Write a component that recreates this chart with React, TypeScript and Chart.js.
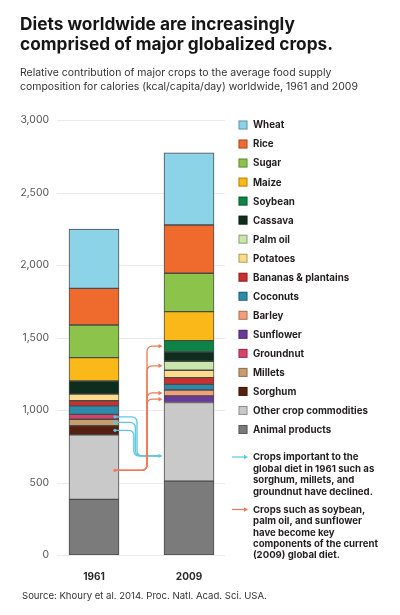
import React, { useEffect, useRef } from 'react';
import { Chart, registerables } from 'chart.js';

Chart.register(...registerables);

const titleLines = ['Diets worldwide are increasingly', 'comprised of major globalized crops.'];
const subtitleLines = [
  'Relative contribution of major crops to the average food supply',
  'composition for calories (kcal/capita/day) worldwide, 1961 and 2009',
];
const sourceText = 'Source: Khoury et al. 2014. Proc. Natl. Acad. Sci. USA.';

const years = ['1961', '2009'];
const crops = [
  'Wheat', 'Rice', 'Sugar', 'Maize', 'Soybean', 'Cassava', 'Palm oil', 'Potatoes',
  'Bananas & plantains', 'Coconuts', 'Barley', 'Sunflower', 'Groundnut', 'Millets',
  'Sorghum', 'Other crop commodities', 'Animal products',
];
const cropColors = [
  '#8dd3e8', '#ee6a2d', '#8cc34b', '#fbb919', '#0b8445', '#0e2d1c', '#c8e6ad', '#fcdc8a',
  '#c9302f', '#2a8bab', '#f2a07c', '#6a3a9a', '#d6426a', '#c89d6e',
  '#55200f', '#c9c9c9', '#7b7b7b',
];
const kcal1961 = [409, 253, 225, 161, 0, 90, 0, 46, 36, 58, 0, 0, 34, 44, 64, 444, 384];
const kcal2009 = [498, 333, 265, 199, 77, 66, 62, 51, 46, 39, 41, 45, 0, 0, 0, 542, 510];

const yMax = 3000;
const yStep = 500;

const declinedCrops = ['Groundnut', 'Millets', 'Sorghum'];
const risenCrops = ['Soybean', 'Palm oil', 'Barley', 'Sunflower'];
const otherLabel = 'Other crop commodities';
const declinedEndFraction = 0.32; // position within 2009 "other" segment
const risenStartFraction = 0.45; // position within 1961 "other" segment

const declinedNote = [
  'Crops important to the',
  'global diet in 1961 such as',
  'sorghum, millets, and',
  'groundnut have declined.',
];
const risenNote = [
  'Crops such as soybean,',
  'palm oil, and sunflower',
  'have become key',
  'components of the current',
  '(2009) global diet.',
];

const BLUE = '#5cc6e6';
const ORANGE = '#ef7a55';
const FONT = 'Inter, "Open Sans", sans-serif';

// font size chosen so a reference string spans a given width
function fitFont(ctx: CanvasRenderingContext2D, weight: number, text: string, width: number) {
  ctx.font = `${weight} 10px ${FONT}`;
  const w = ctx.measureText(text).width;
  const size = (10 * width) / w;
  return `${weight} ${size.toFixed(2)}px ${FONT}`;
}

function arrowHead(ctx: CanvasRenderingContext2D, x: number, y: number, color: string) {
  ctx.save();
  ctx.fillStyle = color;
  ctx.beginPath();
  ctx.moveTo(x, y);
  ctx.lineTo(x - 4, y - 2.2);
  ctx.lineTo(x - 4, y + 2.2);
  ctx.closePath();
  ctx.fill();
  ctx.restore();
}

function dot(ctx: CanvasRenderingContext2D, x: number, y: number, color: string) {
  ctx.save();
  ctx.fillStyle = color;
  ctx.beginPath();
  ctx.arc(x, y, 1.6, 0, Math.PI * 2);
  ctx.fill();
  ctx.restore();
}

const fmt = (v: number) => Number(v).toLocaleString('en-US');

const gridPlugin = {
  id: 'shortGrid',
  beforeDatasetsDraw(chart: any) {
    const ctx: CanvasRenderingContext2D = chart.ctx;
    const xs = chart.scales.x;
    const ys = chart.scales.y;
    const left = xs.getPixelForValue(0) - 37;
    const right = xs.getPixelForValue(1) + 36;
    ctx.save();
    ctx.strokeStyle = '#ebebeb';
    ctx.lineWidth = 1;
    ctx.fillStyle = '#555';
    ctx.textAlign = 'right';
    ctx.textBaseline = 'middle';
    ctx.font = fitFont(ctx, 400, fmt(yMax), 28.6);
    ys.ticks.forEach((t: any) => {
      const yp = ys.getPixelForValue(t.value);
      const y = Math.round(yp) + 0.5;
      ctx.beginPath();
      ctx.moveTo(left, y);
      ctx.lineTo(right, y);
      ctx.stroke();
      ctx.fillText(fmt(t.value), left - 8, yp);
    });
    ctx.restore();
  },
};

const overlay = {
  id: 'overlay',
  afterDraw(chart: any) {
    const ctx: CanvasRenderingContext2D = chart.ctx;
    ctx.save();
    ctx.textBaseline = 'middle';
    ctx.textAlign = 'left';

    // Title
    ctx.fillStyle = '#161616';
    ctx.font = fitFont(ctx, 700, titleLines[1], 313);
    titleLines.forEach((t, i) => ctx.fillText(t, 20, 25 + i * 20));

    // Subtitle
    ctx.fillStyle = '#333';
    ctx.font = fitFont(ctx, 400, subtitleLines[1], 338);
    subtitleLines.forEach((t, i) => ctx.fillText(t, 20, 73 + i * 13.4));

    // Source
    ctx.fillStyle = '#333';
    ctx.font = fitFont(ctx, 400, sourceText, 245);
    ctx.fillText(sourceText, 22, 596);

    // Legend
    const lx = 238.5;
    const ly0 = 125;
    const lstep = 19.03;
    const legendFont = fitFont(ctx, 700, 'Other crop commodities', 115);
    crops.forEach((c, i) => {
      const cy = ly0 + i * lstep;
      ctx.fillStyle = cropColors[i];
      ctx.fillRect(lx, cy - 4.5, 9, 9);
      ctx.strokeStyle = 'rgba(0,0,0,0.3)';
      ctx.lineWidth = 1;
      ctx.strokeRect(lx + 0.5, cy - 4, 8, 8);
      ctx.fillStyle = '#231f20';
      ctx.font = legendFont;
      ctx.fillText(c, 253, cy + 0.5);
    });

    // Notes
    const noteFont = fitFont(ctx, 700, 'components of the current', 125);
    const drawNote = (lines: string[], y0: number, color: string) => {
      ctx.strokeStyle = color;
      ctx.lineWidth = 1.2;
      ctx.beginPath();
      ctx.moveTo(232, y0);
      ctx.lineTo(245, y0);
      ctx.stroke();
      arrowHead(ctx, 248, y0, color);
      ctx.fillStyle = '#231f20';
      ctx.font = noteFont;
      lines.forEach((t, i) => ctx.fillText(t, 253, y0 + 0.5 + i * 11.4));
    };
    drawNote(declinedNote, 457, BLUE);
    drawNote(risenNote, 509.5, ORANGE);

    // Arrows between bars
    const el = (label: string, j: number) => {
      const idx = chart.data.datasets.findIndex((d: any) => d.label === label);
      return chart.getDatasetMeta(idx).data[j];
    };
    const mid = (label: string, j: number) => {
      const e = el(label, j);
      return (e.y + e.base) / 2;
    };
    const ref0 = el(otherLabel, 0);
    const ref1 = el(otherLabel, 1);
    const x0 = ref0.x + ref0.width / 2 - 4;
    const x1 = ref1.x - ref1.width / 2 - 1.5;
    const r = 5;

    ctx.lineWidth = 1.3;
    ctx.lineJoin = 'round';

    // declined (blue)
    const blueEndY = ref1.base + (ref1.y - ref1.base) * declinedEndFraction;
    declinedCrops.forEach((c, i) => {
      const sy = mid(c, 0);
      const vx = 137 - i * 1.6;
      ctx.strokeStyle = BLUE;
      ctx.beginPath();
      ctx.moveTo(x0, sy);
      ctx.lineTo(vx - r, sy);
      ctx.arcTo(vx, sy, vx, sy + r, r);
      ctx.lineTo(vx, blueEndY - r);
      ctx.arcTo(vx, blueEndY, vx + r, blueEndY, r);
      ctx.lineTo(x1 - 3, blueEndY);
      ctx.stroke();
      dot(ctx, x0, sy, BLUE);
    });
    arrowHead(ctx, x1, blueEndY, BLUE);

    // risen (orange)
    const orangeStartY = ref0.base + (ref0.y - ref0.base) * risenStartFraction;
    const ovx = 147;
    risenCrops.forEach((c) => {
      const ty = mid(c, 1);
      ctx.strokeStyle = ORANGE;
      ctx.beginPath();
      ctx.moveTo(x0, orangeStartY);
      ctx.lineTo(ovx - r, orangeStartY);
      ctx.arcTo(ovx, orangeStartY, ovx, orangeStartY - r, r);
      ctx.lineTo(ovx, ty + r);
      ctx.arcTo(ovx, ty, ovx + r, ty, r);
      ctx.lineTo(x1 - 3, ty);
      ctx.stroke();
      arrowHead(ctx, x1, ty, ORANGE);
    });
    dot(ctx, x0, orangeStartY, ORANGE);

    ctx.restore();
  },
};

export default function App() {
  const canvasRef = useRef<HTMLCanvasElement | null>(null);

  useEffect(() => {
    if (!canvasRef.current) return;
    const datasets = crops
      .map((c, i) => ({
        label: c,
        data: years.map((_, j) => {
          const v = (j === 0 ? kcal1961 : kcal2009)[i];
          return v > 0 ? v : null;
        }),
        backgroundColor: cropColors[i],
        borderColor: '#4b4b4b',
        borderWidth: 1,
        borderSkipped: false,
        barThickness: 50,
      }))
      .reverse();

    const chart = new Chart(canvasRef.current, {
      type: 'bar',
      data: { labels: years, datasets } as any,
      options: {
        animation: false,
        responsive: false,
        devicePixelRatio: 1,
        layout: { padding: { top: 120, right: 163.5, bottom: 0, left: 0 } },
        plugins: {
          legend: { display: false },
          tooltip: { enabled: false },
          title: { display: false },
        },
        scales: {
          x: {
            stacked: true,
            grid: { display: false },
            border: { display: false },
            afterFit: (scale: any) => {
              scale.height = 60;
            },
            ticks: {
              padding: 8,
              color: '#2a2a2a',
              font: { family: FONT, size: 10, weight: 'bold' },
            },
          },
          y: {
            stacked: true,
            min: 0,
            max: yMax,
            grid: { display: false, drawTicks: false },
            border: { display: false },
            afterFit: (scale: any) => {
              scale.width = 46.5;
            },
            ticks: {
              stepSize: yStep,
              display: false,
            },
          },
        },
      } as any,
      plugins: [gridPlugin, overlay],
    });
    return () => chart.destroy();
  }, []);

  return (
    <div style={{ position: 'fixed', left: 0, top: 0, width: 400, height: 615, background: '#fff' }}>
      <canvas ref={canvasRef} width={400} height={615} style={{ display: 'block', width: 400, height: 615 }} />
    </div>
  );
}
